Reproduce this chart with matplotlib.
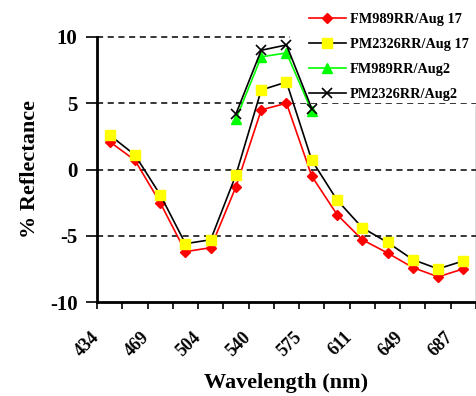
import numpy as np
import matplotlib
matplotlib.use("Agg")
import matplotlib.pyplot as plt
from matplotlib.patches import Rectangle
import matplotlib.transforms as mtransforms

plt.rcParams['font.family'] = ['Liberation Serif', 'DejaVu Serif']
plt.rcParams['font.weight'] = 'bold'

# ---- data ----
wavelengths = [434, 452, 469, 487, 504, 522, 540, 557, 575, 593, 611, 630, 649, 668, 687]
fm989_aug17 = [2.1, 0.7, -2.5, -6.2, -5.9, -1.3, 4.5, 5.0, -0.5, -3.4, -5.3, -6.3, -7.4, -8.1, -7.5]
pm2326_aug17 = [2.6, 1.1, -1.9, -5.6, -5.3, -0.4, 6.0, 6.6, 0.7, -2.3, -4.4, -5.5, -6.8, -7.5, -6.9]
nan = np.nan
fm989_aug2 = [nan, nan, nan, nan, nan, 3.8, 8.5, 8.8, 4.4, nan, nan, nan, nan, nan, nan]
pm2326_aug2 = [nan, nan, nan, nan, nan, 4.2, 9.0, 9.4, 4.6, nan, nan, nan, nan, nan, nan]
series_labels = ['FM989RR/Aug 17', 'PM2326RR/Aug 17', 'FM989RR/Aug2', 'PM2326RR/Aug2']
y_ticks = [-10, -5, 0, 5, 10]

W, H = 477, 396
fig = plt.figure(figsize=(W / 100, H / 100), dpi=100)
ax = fig.add_axes([97 / W, 1 - 302 / H, (476 - 97) / W, (302 - 37) / H])

x = np.arange(len(wavelengths))
lw = 1.2
h1, = ax.plot(x, fm989_aug17, color='#FF0000', lw=lw, marker='D', ms=5,
              mfc='#FF0000', mec='#FF0000', zorder=3, label=series_labels[0])
h2, = ax.plot(x, pm2326_aug17, color='black', lw=lw, marker='s', ms=7,
              mfc='#FFFF00', mec='#FFFF00', zorder=4, label=series_labels[1])
h3, = ax.plot(x, fm989_aug2, color='#00FF00', lw=lw, marker='^', ms=7,
              mfc='#00FF00', mec='#00FF00', zorder=5, label=series_labels[2])
h4, = ax.plot(x, pm2326_aug2, color='black', lw=lw, marker='x', ms=7, mew=1.2,
              zorder=6, label=series_labels[3])

ax.set_xlim(-0.5, len(wavelengths) - 0.5)
ax.set_ylim(-10, 10)
ax.set_yticks(y_ticks)
ax.set_yticklabels([str(v) for v in y_ticks], fontsize=15, fontweight='bold')

# category boundaries as tick marks, labels every other category
ax.set_xticks(np.arange(-0.5, len(wavelengths), 1.0), minor=True)
ax.set_xticks(x[::2])
ax.set_xticklabels([str(w) for w in wavelengths[::2]], rotation=45, ha='right',
                   va='top', fontsize=13, fontweight='bold')
ax.tick_params(axis='x', which='major', length=0)
ax.tick_params(axis='x', which='minor', length=5, width=1.2, direction='out')
ax.tick_params(axis='y', which='major', length=8, width=1.2, direction='out', pad=6)

# gridlines (dashed)
for v in y_ticks[1:]:
    ax.axhline(v, color='black', lw=1.1, ls=(0, (4, 3)), zorder=0.5, clip_on=False)

ax.spines['top'].set_visible(False)
ax.spines['left'].set_linewidth(2)
ax.spines['bottom'].set_linewidth(2)
ax.spines['right'].set_linewidth(1)
ax.spines['right'].set_color('#555555')
ax.spines['right'].set_bounds(-10, 4.8)

# white legend area covering the top-right part of the plot
rect = Rectangle((290 / W, 1 - 103 / H), (W - 290) / W, 103 / H,
                 transform=fig.transFigure, facecolor='white', edgecolor='none',
                 zorder=1, clip_on=False)
ax.add_patch(rect)

ax.set_ylabel('% Reflectance', fontsize=16, fontweight='bold', labelpad=7)
ax.set_xlabel('Wavelength (nm)', fontsize=16, fontweight='bold', labelpad=9.5)

fig.legend(handles=[h1, h2, h3, h4], loc='upper left',
           bbox_to_anchor=(306 / W, 1 - 10 / H), frameon=False,
           prop={'family': 'Liberation Serif', 'weight': 'bold', 'size': 10.3},
           handlelength=2.6, handletextpad=0.25, labelspacing=0.85,
           borderpad=0.2, borderaxespad=0)

# shift the rotated x tick labels (after all tick_params calls)
offset = mtransforms.ScaledTranslation(-7 / 100, -22 / 100, fig.dpi_scale_trans)
for lab in ax.get_xticklabels():
    lab.set_transform(lab.get_transform() + offset)

fig.savefig('out.png', dpi=100)
